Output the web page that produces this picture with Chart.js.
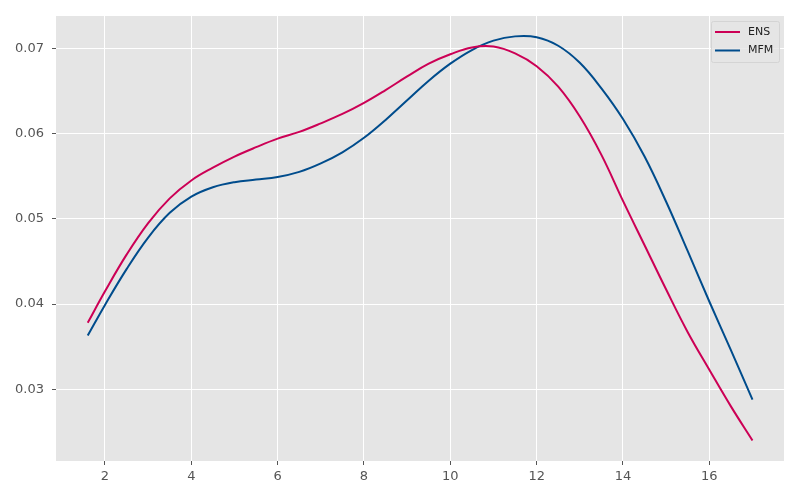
<!DOCTYPE html>
<html>
<head>
<meta charset="utf-8">
<script src="https://cdn.jsdelivr.net/npm/chart.js@4.4.1/dist/chart.umd.min.js"></script>
<style>
  html, body { margin: 0; padding: 0; background: #fff; }
  #wrap { width: 800px; height: 500px; }
</style>
</head>
<body>
<div id="wrap"><canvas id="curveChart"></canvas></div>
<script>
const xValues = [1.6, 2, 2.5, 3, 3.5, 4, 4.5, 5, 5.5, 6, 6.5, 7, 7.5, 8, 8.5, 9, 9.5, 10, 10.5, 11, 11.5, 12, 12.5, 13, 13.5, 14, 14.5, 15, 15.5, 16, 16.5, 17];
const ensValues = [0.0378, 0.0415, 0.0458, 0.0495, 0.0524, 0.0545, 0.0560, 0.0573, 0.0584, 0.0594, 0.0602, 0.0612, 0.0623, 0.0636, 0.0651, 0.0667, 0.0682, 0.0693, 0.0701, 0.0702, 0.0694, 0.0679, 0.0655, 0.0620, 0.0575, 0.0521, 0.0469, 0.0417, 0.0367, 0.0323, 0.0280, 0.0240];
const mfmValues = [0.0363, 0.0399, 0.0441, 0.0478, 0.0507, 0.0526, 0.0537, 0.0543, 0.0546, 0.0549, 0.0555, 0.0565, 0.0578, 0.0595, 0.0616, 0.0639, 0.0662, 0.0682, 0.0698, 0.0709, 0.0714, 0.0713, 0.0703, 0.0683, 0.0653, 0.0617, 0.0573, 0.0520, 0.0462, 0.0403, 0.0346, 0.0288];
const xTicks = [2, 4, 6, 8, 10, 12, 14, 16];
const yTicks = [0.03, 0.04, 0.05, 0.06, 0.07];
const seriesLabels = ["ENS", "MFM"];
const seriesColors = ["#cc0055", "#004c8c"];

function toPoints(ys) {
  return xValues.map((x, i) => ({ x: x, y: ys[i] }));
}

// szare tło obszaru wykresu, jak w stylu ggplot
const panelBackground = {
  id: "panelBackground",
  beforeDraw(chart) {
    const { ctx, chartArea: a } = chart;
    ctx.save();
    ctx.fillStyle = "#e5e5e5";
    ctx.fillRect(a.left, a.top, a.right - a.left, a.bottom - a.top);
    ctx.restore();
  }
};

// legenda wewnątrz obszaru, prawy górny róg
const insideLegend = {
  id: "insideLegend",
  afterDraw(chart) {
    const { ctx, chartArea: a } = chart;
    const boxW = 68, boxH = 41;
    const x0 = a.right - 5 - boxW, y0 = a.top + 5;
    ctx.save();
    ctx.fillStyle = "rgba(229,229,229,0.8)";
    ctx.strokeStyle = "#d4d4d4";
    ctx.lineWidth = 1;
    ctx.beginPath();
    ctx.roundRect(x0 + 0.5, y0 + 0.5, boxW, boxH, 2);
    ctx.fill();
    ctx.stroke();
    ctx.font = "11px 'DejaVu Sans'";
    ctx.textBaseline = "middle";
    chart.data.datasets.forEach((ds, i) => {
      const y = y0 + 11 + i * 18.5;
      ctx.strokeStyle = ds.borderColor;
      ctx.lineWidth = 2;
      ctx.beginPath();
      ctx.moveTo(x0 + 4, y);
      ctx.lineTo(x0 + 29, y);
      ctx.stroke();
      ctx.fillStyle = "#222";
      ctx.fillText(ds.label, x0 + 37, y);
    });
    ctx.restore();
  }
};

new Chart(document.getElementById("curveChart"), {
  type: "line",
  data: {
    datasets: [
      {
        label: seriesLabels[0],
        data: toPoints(ensValues),
        borderColor: seriesColors[0],
        borderWidth: 2,
        pointRadius: 0,
        tension: 0.4,
        fill: false
      },
      {
        label: seriesLabels[1],
        data: toPoints(mfmValues),
        borderColor: seriesColors[1],
        borderWidth: 2,
        pointRadius: 0,
        tension: 0.4,
        fill: false
      }
    ]
  },
  options: {
    responsive: true,
    maintainAspectRatio: false,
    animation: false,
    layout: { padding: { left: 0, right: 16, top: 16, bottom: 0 } },
    plugins: {
      legend: { display: false },
      tooltip: { enabled: false }
    },
    scales: {
      x: {
        type: "linear",
        min: 0.865,
        max: 17.73,
        afterBuildTicks(scale) { scale.ticks = xTicks.map(v => ({ value: v })); },
        afterFit(scale) { scale.height = 39; },
        border: { display: false },
        grid: { color: "#ffffff", lineWidth: 1, tickColor: "#555", tickLength: 4 },
        ticks: {
          color: "#555",
          padding: 4,
          font: { family: "DejaVu Sans", size: 13 },
          maxRotation: 0,
          callback: v => String(v)
        }
      },
      y: {
        type: "linear",
        min: 0.02159,
        max: 0.07379,
        afterBuildTicks(scale) { scale.ticks = yTicks.map(v => ({ value: v })); },
        afterFit(scale) { scale.width = 56; },
        border: { display: false },
        grid: { color: "#ffffff", lineWidth: 1, tickColor: "#555", tickLength: 4 },
        ticks: {
          color: "#555",
          padding: 8,
          font: { family: "DejaVu Sans", size: 13 },
          callback: v => v.toFixed(2)
        }
      }
    }
  },
  plugins: [panelBackground, insideLegend]
});
</script>
</body>
</html>
